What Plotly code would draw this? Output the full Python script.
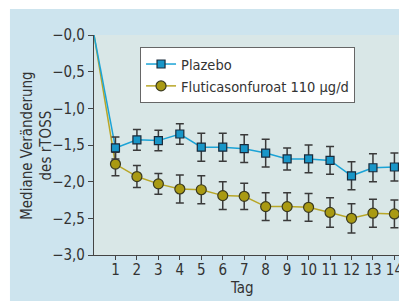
import plotly.graph_objects as go

days = [1, 2, 3, 4, 5, 6, 7, 8, 9, 10, 11, 12, 13, 14]
start_day = 0
start_value = 0.0
placebo = [-1.54, -1.43, -1.44, -1.35, -1.53, -1.53, -1.55, -1.61, -1.69, -1.69, -1.71, -1.92, -1.81, -1.80]
placebo_err = [0.15, 0.14, 0.14, 0.14, 0.19, 0.19, 0.19, 0.19, 0.15, 0.19, 0.19, 0.19, 0.19, 0.19]
fluti = [-1.76, -1.93, -2.03, -2.10, -2.11, -2.19, -2.20, -2.34, -2.34, -2.35, -2.42, -2.50, -2.43, -2.44]
fluti_err = [0.16, 0.15, 0.14, 0.19, 0.19, 0.19, 0.18, 0.19, 0.19, 0.19, 0.20, 0.20, 0.19, 0.19]
ytick_vals = [0, -0.5, -1.0, -1.5, -2.0, -2.5, -3.0]
ytick_text = ["\u22120,0", "\u22120,5", "\u22121,0", "\u22121,5", "\u22122,0", "\u22122,5", "\u22123,0"]
names = ["Plazebo", "Fluticasonfuroat 110 \u00b5g/d"]
y_title = "Mediane Ver\u00e4nderung<br>des rTOSS"
x_title = "Tag"

FONT = "DejaVu Sans Condensed, DejaVu Sans, sans-serif"
c_pl_line = "#1ba3d6"
c_pl_mark = "#1896c8"
c_fl_line = "#b8a626"
c_fl_mark = "#a99a12"
err_col = "#3a3a3a"

fig = go.Figure()
fig.add_trace(go.Scatter(x=[start_day, days[0]], y=[start_value, fluti[0]], mode="lines",
                         line=dict(color=c_fl_line, width=1.5), showlegend=False, hoverinfo="skip"))
fig.add_trace(go.Scatter(x=[start_day, days[0]], y=[start_value, placebo[0]], mode="lines",
                         line=dict(color=c_pl_line, width=1.5), showlegend=False, hoverinfo="skip"))
fig.add_trace(go.Scatter(
    x=days, y=fluti, mode="lines+markers", name=names[1],
    line=dict(color=c_fl_line, width=1.5),
    marker=dict(symbol="circle", size=10, color=c_fl_mark, line=dict(color="#3a3a20", width=1.2)),
    error_y=dict(type="data", array=fluti_err, visible=True, color=err_col, thickness=1.5, width=4),
))
fig.add_trace(go.Scatter(
    x=days, y=placebo, mode="lines+markers", name=names[0],
    line=dict(color=c_pl_line, width=1.5),
    marker=dict(symbol="square", size=8, color=c_pl_mark, line=dict(color="#1a2a3a", width=1.2)),
    error_y=dict(type="data", array=placebo_err, visible=True, color=err_col, thickness=1.5, width=4),
))

# figure: 399x293 placed at the page's 8px body margin
# thin white strips at top and left of the panel
fig.add_shape(type="rect", xref="paper", yref="paper", x0=-0.4, x1=1.1, y0=1.118, y1=1.2,
              fillcolor="white", line=dict(width=0), layer="below")
fig.add_shape(type="rect", xref="paper", yref="paper", x0=-0.4, x1=-0.272, y0=-0.3, y1=1.2,
              fillcolor="white", line=dict(width=0), layer="below")

# axis titles as annotations
fig.add_annotation(text=y_title, textangle=-90, xref="paper", yref="paper",
                   x=-0.185, y=0.5, xanchor="center", yanchor="middle", showarrow=False,
                   font=dict(size=15, color="#333333"), align="center")
fig.add_annotation(text=x_title, xref="paper", yref="paper",
                   x=0.479, y=-0.15, xanchor="center", yanchor="middle", showarrow=False,
                   font=dict(size=15, color="#333333"))

fig.update_layout(
    width=399, height=293,
    margin=dict(l=86, r=4, t=27, b=46),
    paper_bgcolor="#cde4ee",
    plot_bgcolor="#d9e7e7",
    font=dict(family=FONT, size=15, color="#333333"),
    legend=dict(x=0.149, y=0.945, xanchor="left", yanchor="top",
                bgcolor="white", bordercolor="#666666", borderwidth=1,
                traceorder="reversed", font=dict(size=14.5, color="#333333"),
                itemwidth=30, tracegroupgap=0),
    showlegend=True,
)
fig.update_xaxes(range=[0, 14.4], tickvals=days, ticks="outside", ticklen=4, tickcolor="#444444",
                 showline=True, linecolor="#444444", linewidth=1.2, showgrid=False, zeroline=False,
                 tickfont=dict(size=15), ticklabelstandoff=-3)
fig.update_yaxes(range=[-3.0, 0.0], tickvals=ytick_vals, ticktext=ytick_text, ticks="outside",
                 ticklen=5, tickcolor="#444444", showline=True, linecolor="#444444", linewidth=1.2,
                 showgrid=False, zeroline=False, tickfont=dict(size=15))

fig.write_html("out.html")
